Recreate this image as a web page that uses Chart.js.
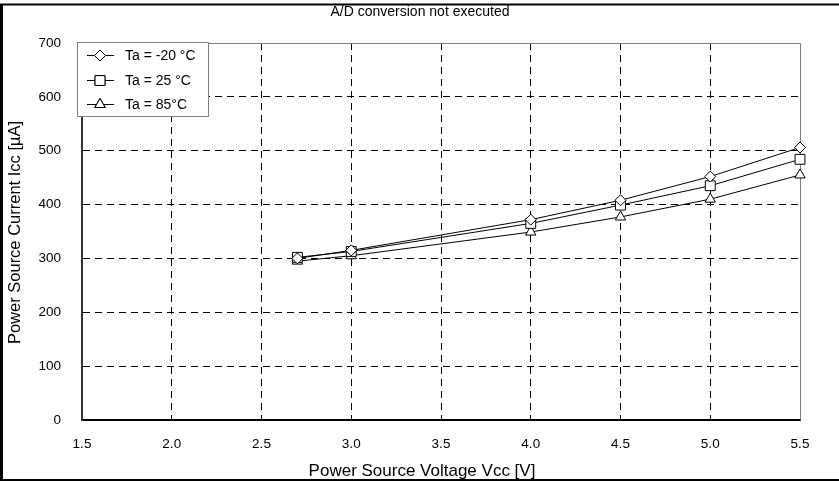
<!DOCTYPE html>
<html>
<head>
<meta charset="utf-8">
<script src="https://cdn.jsdelivr.net/npm/chart.js@4/dist/chart.umd.min.js"></script>
<style>
  body { margin: 0; background: #fff; }
  #wrap { width: 839px; height: 481px; position: relative; }
</style>
</head>
<body>
<div id="wrap"><canvas id="chart"></canvas></div>
<script>
// supply voltage [V]
let vccValues = [2.7, 3.0, 4.0, 4.5, 5.0, 5.5];

// supply current [uA] per temperature
let iccTaMinus20 = [300, 315, 372, 408, 452, 506];
let iccTa25 = [302, 313, 365, 399, 435, 484];
let iccTa85 = [295, 305, 349, 377, 410, 455];

let seriesLabels = ['Ta = -20 °C', 'Ta = 25 °C', 'Ta = 85°C'];

let subTitle = 'A/D conversion not executed';
let xTitle = 'Power Source Voltage Vcc [V]';
let yTitle = 'Power Source Current Icc [µA]';

let fontName = '"Liberation Sans", Arial, sans-serif';

function toPoints(ys) {
    return vccValues.map(function(x, i) { return {x: x, y: ys[i]}; });
}

function makeSet(label, values, style, radius) {
    return {
        label: label,
        data: toPoints(values),
        borderColor: '#000',
        borderWidth: 1,
        backgroundColor: '#fff',
        pointStyle: style,
        pointRadius: radius,
        pointHoverRadius: radius,
        pointBorderColor: '#000',
        pointBorderWidth: 1,
        pointBackgroundColor: '#fff',
        tension: 0,
        fill: false,
        clip: false
    };
}

// frame, titles and the boxed legend
let decorPlugin = {
    id: 'decor',
    beforeDraw: function(chart) {
        let ctx = chart.ctx;
        ctx.save();
        ctx.fillStyle = '#fff';
        ctx.fillRect(0, 0, chart.width, chart.height);
        ctx.restore();
    },
    beforeDatasetsDraw: function(chart) {
        let ctx = chart.ctx;
        let area = chart.chartArea;
        // plot border top + right (grey)
        ctx.save();
        ctx.strokeStyle = '#808080';
        ctx.lineWidth = 1;
        ctx.beginPath();
        ctx.moveTo(area.left, area.top + 0.5);
        ctx.lineTo(area.right + 0.5, area.top + 0.5);
        ctx.lineTo(area.right + 0.5, area.bottom);
        ctx.stroke();
        ctx.restore();
    },
    afterDraw: function(chart) {
        let ctx = chart.ctx;
        let area = chart.chartArea;
        ctx.save();

        // outer frame
        ctx.fillStyle = '#000';
        ctx.fillRect(0, 3.5, chart.width, 2);
        ctx.fillRect(0, 4, 3, chart.height - 4);
        ctx.fillRect(0, chart.height - 2, chart.width, 2);

        // texts
        ctx.fillStyle = '#000';
        ctx.textAlign = 'center';
        ctx.textBaseline = 'alphabetic';
        ctx.font = '14px ' + fontName;
        ctx.fillText(subTitle, 420, 15.5);

        ctx.font = '17px ' + fontName;
        ctx.fillText(xTitle, 422, 475.5);

        ctx.save();
        ctx.translate(20, (area.top + area.bottom) / 2 + 1);
        ctx.rotate(-Math.PI / 2);
        ctx.font = '16.5px ' + fontName;
        ctx.fillText(yTitle, 0, 0);
        ctx.restore();

        // legend
        let bx = 77.5, by = 42.5, bw = 131, bh = 74;
        ctx.fillStyle = '#fff';
        ctx.fillRect(bx, by, bw, bh);
        ctx.strokeStyle = '#808080';
        ctx.strokeRect(bx, by, bw, bh);

        let rowY = [55, 80, 104];
        ctx.font = '14px ' + fontName;
        ctx.textAlign = 'left';
        ctx.textBaseline = 'middle';
        chart.data.datasets.forEach(function(ds, i) {
            let y = rowY[i];
            ctx.strokeStyle = '#000';
            ctx.lineWidth = 1;
            ctx.beginPath();
            ctx.moveTo(87, y + 0.5);
            ctx.lineTo(114, y + 0.5);
            ctx.stroke();
            ctx.fillStyle = '#fff';
            Chart.helpers.drawPoint(ctx, {
                pointStyle: ds.pointStyle,
                radius: ds.pointRadius,
                rotation: 0,
                borderWidth: 1
            }, 100, y + 0.5);
            ctx.fill();
            ctx.stroke();
            ctx.fillStyle = '#000';
            ctx.fillText(ds.label, 125, y + 1);
        });

        ctx.restore();
    }
};

let config = {
    type: 'line',
    data: {
        datasets: [
            makeSet(seriesLabels[0], iccTaMinus20, 'rectRot', 5.5),
            makeSet(seriesLabels[1], iccTa25, 'rect', 7),
            makeSet(seriesLabels[2], iccTa85, 'triangle', 6)
        ]
    },
    options: {
        responsive: true,
        maintainAspectRatio: false,
        animation: false,
        layout: { padding: { top: 43, right: 39, left: 0, bottom: 0 } },
        plugins: {
            legend: { display: false },
            tooltip: { enabled: false }
        },
        scales: {
            x: {
                type: 'linear',
                min: 1.5,
                max: 5.5,
                afterFit: function(scale) { scale.height = 61; },
                ticks: {
                    stepSize: 0.5,
                    padding: 16,
                    color: '#000',
                    font: { family: fontName, size: 13.5 },
                    maxRotation: 0,
                    callback: function(v) { return v.toFixed(1); }
                },
                grid: {
                    drawTicks: false,
                    color: function(c) {
                        let v = c.tick ? c.tick.value : null;
                        return (v === 1.5 || v === 5.5) ? 'rgba(0,0,0,0)' : '#000';
                    },
                    lineWidth: 1
                },
                border: { display: true, color: '#000', width: 2, dash: [7, 5] }
            },
            y: {
                type: 'linear',
                min: 0,
                max: 700,
                afterFit: function(scale) { scale.width = 82; },
                ticks: {
                    stepSize: 100,
                    padding: 21,
                    color: '#000',
                    font: { family: fontName, size: 13.5 }
                },
                grid: {
                    drawTicks: false,
                    color: function(c) {
                        let v = c.tick ? c.tick.value : null;
                        return (v === 0 || v === 700) ? 'rgba(0,0,0,0)' : '#000';
                    },
                    lineWidth: 1
                },
                border: { display: true, color: '#333', width: 2, dash: [7, 5] }
            }
        }
    },
    plugins: [decorPlugin]
};

let myChart = new Chart(document.getElementById('chart'), config);
</script>
</body>
</html>
